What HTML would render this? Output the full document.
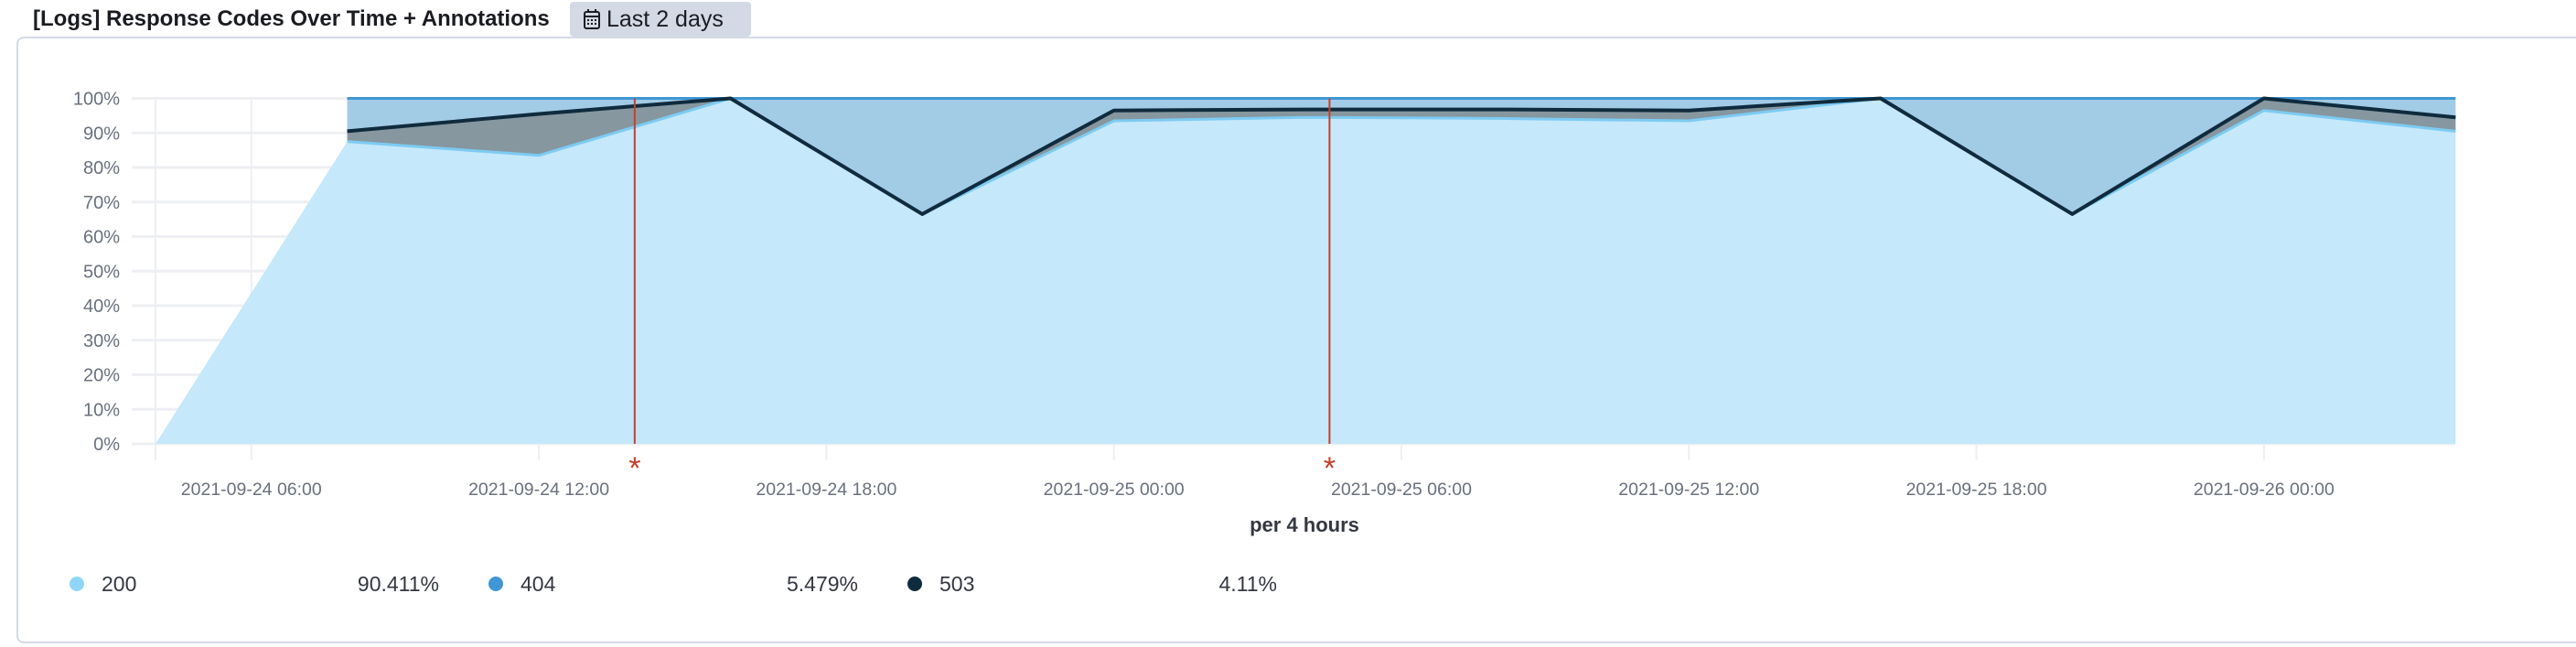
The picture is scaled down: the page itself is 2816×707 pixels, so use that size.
<!DOCTYPE html>
<html><head><meta charset="utf-8">
<style>
html,body{margin:0;padding:0;background:#fff;width:2816px;height:707px;overflow:hidden;font-family:"Liberation Sans",sans-serif;}
#panel{position:absolute;left:18px;top:40px;width:2820px;height:663px;border:2px solid #d3dae6;border-radius:8px;background:#fff;box-sizing:border-box;}
#title{position:absolute;left:36px;top:7px;font-size:24px;font-weight:bold;color:#1a1c21;}
#badge{position:absolute;left:623px;top:2px;width:198px;height:38px;background:#d3dae6;border-radius:4px;font-size:25px;color:#1a1c21;line-height:38px;box-sizing:border-box;padding-left:14px;white-space:nowrap;}
svg{position:absolute;left:0;top:0;}
</style></head><body>
<div id="panel"></div>
<div id="title">[Logs] Response Codes Over Time + Annotations</div>
<div id="badge"><svg width="20" height="24" style="position:relative;display:inline-block;vertical-align:-4px;margin-right:6px"><rect x="2" y="4" width="16" height="18" rx="2" fill="none" stroke="#1a1c21" stroke-width="2"/><line x1="2" y1="9" x2="18" y2="9" stroke="#1a1c21" stroke-width="2"/><line x1="6" y1="1" x2="6" y2="5" stroke="#1a1c21" stroke-width="2"/><line x1="14" y1="1" x2="14" y2="5" stroke="#1a1c21" stroke-width="2"/><g fill="#1a1c21"><rect x="5" y="12" width="2" height="2"/><rect x="9" y="12" width="2" height="2"/><rect x="13" y="12" width="2" height="2"/><rect x="5" y="16" width="2" height="2"/><rect x="9" y="16" width="2" height="2"/><rect x="13" y="16" width="2" height="2"/></g></svg>Last 2 days</div>
<svg id="chart" width="2816" height="707"></svg>
<script>
// hours since 2021-09-24 00:00 for each 4h bucket
const bucketHours = [4,8,12,16,20,24,28,32,36,40,44,48,52];
const series200 = [0,87.5,83.5,100,66.5,93.5,94.5,94.2,93.5,100,66.5,96.5,90.5];
const series503 = [null,3,12,0,0,3,2.3,2.6,3,0,0,3.5,4];
const series404 = [null,9.5,4.5,0,33.5,3.5,3.2,3.2,3.5,0,33.5,0,5.5];
const yTicks = [0,10,20,30,40,50,60,70,80,90,100];
const xTickHours = [6,12,18,24,30,36,42,48];
const xTickLabels = ["2021-09-24 06:00","2021-09-24 12:00","2021-09-24 18:00","2021-09-25 00:00","2021-09-25 06:00","2021-09-25 12:00","2021-09-25 18:00","2021-09-26 00:00"];
const annotationHours = [14,28.5];
const legendNames = ["200","404","503"];
const legendValues = ["90.411%","5.479%","4.11%"];

const NS="http://www.w3.org/2000/svg";
const svg=document.getElementById('chart');
const X0=170, HPX=314.3/6, XR=2684, YT=107.5, YB=485;
const x=h=>X0+(h-4)*HPX;
const y=v=>YB-(v/100)*(YB-YT);
function mk(tag,attrs,parent){const e=document.createElementNS(NS,tag);for(const k in attrs)e.setAttribute(k,attrs[k]);(parent||svg).appendChild(e);return e;}

yTicks.forEach(v=>{
  const l=mk('line',{x1:144,x2:XR,y1:y(v),y2:y(v),stroke:'#eeeff2','stroke-width':3});
  
  
  const t=mk('text',{x:131,y:y(v)+7,'text-anchor':'end','font-size':20,fill:'#69707d'});
  t.textContent=v+'%';
  
  
});
const vx=[X0].concat(xTickHours.map(x));
vx.forEach(px=>{
  const l=mk('line',{x1:px,x2:px,y1:YT,y2:503,stroke:'#eeeff2','stroke-width':2});
  
  
});

const idx=bucketHours.map((h,i)=>i);
const cum1=series200.slice();
const cum2=series200.map((v,i)=>series503[i]==null?null:v+series503[i]);
const cum3=series200.map((v,i)=>series404[i]==null?null:cum2[i]+series404[i]);
const line200=series200.map((v,i)=>series503[i]==null?null:v);
function area(lower,upper,fill,name){
  const ii=idx.filter(i=>upper[i]!=null);
  let d=ii.map((i,k)=>(k?'L':'M')+x(bucketHours[i])+','+y(upper[i])).join('');
  ii.slice().reverse().forEach(i=>{d+='L'+x(bucketHours[i])+','+y(lower?lower[i]:0);});
  const p=mk('path',{d:d+'Z',fill:fill});
  
  
}
function line(vals,color,w,name){
  const ii=idx.filter(i=>vals[i]!=null);
  const d=ii.map((i,k)=>(k?'L':'M')+x(bucketHours[i])+','+y(vals[i])).join('');
  const p=mk('path',{d:d,fill:'none',stroke:color,'stroke-width':w,'stroke-linejoin':'round'});
  
  
}
area(null,cum1,'#c5e8fa','area-200');
area(cum1,cum2,'#86979f','area-503');
area(cum2,cum3,'#a2cbe6','area-404');
line(line200,'#7ccbf2',3,'line-200');
line(cum3,'#3f97d4',3,'line-404');
line(cum2,'#0f2b3d',4,'line-503');

xTickHours.forEach((h,i)=>{
  const t=mk('text',{x:x(h),y:541,'text-anchor':'middle','font-size':19.5,fill:'#69707d'});
  t.textContent=xTickLabels[i];
  
  
});
const xt=mk('text',{x:1426,y:581,'text-anchor':'middle','font-size':22,'font-weight':'bold',fill:'#343741'});
xt.textContent='per 4 hours';



annotationHours.forEach(h=>{
  const l=mk('line',{x1:x(h),x2:x(h),y1:YT,y2:YB,stroke:'#c4402a','stroke-width':2});
  
  
  const t=mk('text',{x:x(h),y:523,'text-anchor':'middle','font-size':34,fill:'#c4402a'});
  t.textContent='*';
  
  
});

const legColors=['#8fd6f9','#3f97d4','#0f2b3d'];
legendNames.forEach((n,i)=>{
  const bx=84+i*458;
  const c=mk('circle',{cx:bx,cy:638,r:8,fill:legColors[i]});
  
  
  const t=mk('text',{x:bx+27,y:646,'font-size':23,fill:'#343741'});
  t.textContent=n;
  
  
  const v=mk('text',{x:bx+396,y:646,'text-anchor':'end','font-size':23,fill:'#343741'});
  v.textContent=legendValues[i];
  
  
});
</script>
</body></html>
